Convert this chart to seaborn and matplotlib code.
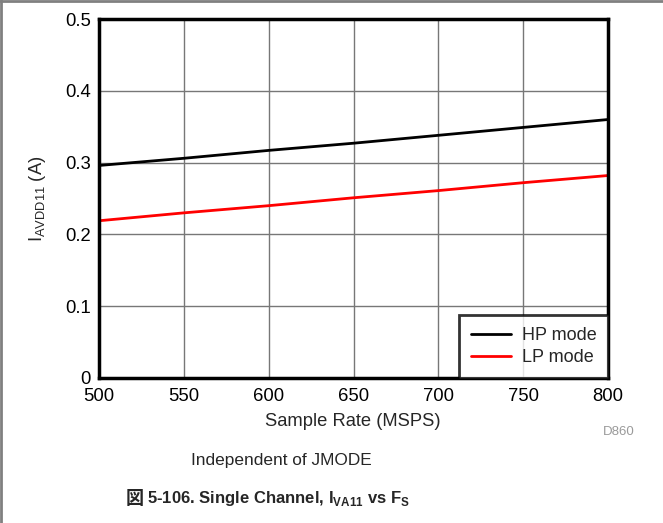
import numpy as np
import pandas as pd
import matplotlib
matplotlib.use("Agg")
import matplotlib.pyplot as plt
import seaborn as sns
from matplotlib.lines import Line2D

# values
sample_rate = [500, 550, 600, 650, 700, 750, 800]
hp_current = [0.296, 0.306, 0.317, 0.327, 0.338, 0.349, 0.360]
lp_current = [0.219, 0.230, 0.240, 0.251, 0.261, 0.272, 0.282]
modes = ["HP mode", "LP mode"]
mode_colors = ["#000000", "#ff0000"]

df = pd.DataFrame({
    "rate": sample_rate * 2,
    "current": hp_current + lp_current,
    "mode": [modes[0]] * len(sample_rate) + [modes[1]] * len(sample_rate),
})

sns.set_style("white")
plt.rcParams["font.family"] = ["Liberation Sans", "DejaVu Sans"]
plt.rcParams["mathtext.fontset"] = "custom"
plt.rcParams["mathtext.rm"] = "Liberation Sans"
plt.rcParams["mathtext.bf"] = "Liberation Sans:bold"

W, H = 663, 523
fig = plt.figure(figsize=(W / 100, H / 100), dpi=100)
ax = fig.add_axes([99 / W, 1 - 378 / H, (608 - 99) / W, (378 - 19) / H])

sns.lineplot(data=df, x="rate", y="current", hue="mode", palette=mode_colors,
             linewidth=2, ax=ax, legend=False)

ax.set_xlim(500, 800)
ax.set_ylim(0, 0.5)
ax.set_xticks(range(500, 801, 50))
ax.set_yticks([0, 0.1, 0.2, 0.3, 0.4, 0.5])
ax.set_yticklabels(["0", "0.1", "0.2", "0.3", "0.4", "0.5"])
ax.grid(True, color="#777777", linewidth=1)
ax.set_axisbelow(True)
ax.tick_params(length=0, labelsize=13.3, colors="black")
ax.tick_params(axis="x", pad=7)
ax.tick_params(axis="y", pad=6)
for s in ax.spines.values():
    s.set_color("black")
    s.set_linewidth(2.5)
ax.set_xlabel("")
ax.set_ylabel("")

handles = [Line2D([], [], color=c, linewidth=2) for c in mode_colors]
leg = ax.legend(handles, modes, loc="lower right", fontsize=13, frameon=True,
                fancybox=False, borderaxespad=0, handlelength=2.2,
                handletextpad=0.6, labelspacing=0.3, borderpad=0.65)
leg.get_frame().set_edgecolor("black")
leg.get_frame().set_linewidth(2)

fig.text(353 / W, 1 - 421 / H, "Sample Rate (MSPS)", ha="center", va="center", fontsize=13.2)
fig.text(38 / W, 1 - 199 / H, "I$_{\\mathrm{AVDD11}}$ (A)", ha="center", va="center",
         rotation=90, fontsize=13.2)
fig.text(619 / W, 1 - 432 / H, "D860", ha="center", va="center", fontsize=9.5, color="#9a9a9a")
fig.text(281 / W, 1 - 461 / H, "Independent of JMODE", ha="center", va="center", fontsize=12.4)
fig.text(126 / W, 1 - 498 / H, "図", ha="left", va="center", fontsize=13,
         fontweight="bold", family=["Noto Sans CJK JP", "DejaVu Sans"])
fig.text(147 / W, 1 - 498 / H, "5-106. Single Channel, I$_{\\mathbf{VA11}}$ vs F$_{\\mathbf{S}}$",
         ha="left", va="center", fontsize=12, fontweight="bold")

# gray page frame at top and left
fig.add_artist(Line2D([0, 1], [1 - 1 / H, 1 - 1 / H], color="#808080", linewidth=2,
                      transform=fig.transFigure))
fig.add_artist(Line2D([1 / W, 1 / W], [0, 1], color="#808080", linewidth=2,
                      transform=fig.transFigure))

fig.savefig("out.png", dpi=100)
